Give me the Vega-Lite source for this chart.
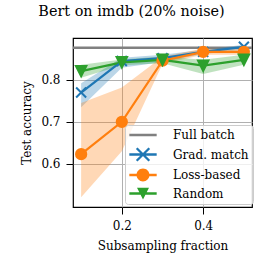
{
  "$schema": "https://vega.github.io/schema/vega-lite/v6.json",
  "autosize": {"type": "none"},
  "width": 179,
  "height": 169,
  "padding": {"left": 73, "top": 38, "right": 13, "bottom": 58},
  "background": "white",
  "config": {
    "view": {"stroke": "#000", "strokeWidth": 1.2},
    "axis": {
      "labelFont": "DejaVu Serif", "labelFontSize": 12, "labelColor": "#000",
      "titleFont": "DejaVu Serif", "titleFontSize": 12, "titleFontWeight": "normal", "titleColor": "#000",
      "domain": false, "tickColor": "#000", "tickSize": 7, "tickWidth": 1,
      "gridColor": "#b0b0b0", "gridWidth": 1, "labelPadding": 6
    }
  },
  "title": {
    "text": "Bert on imdb (20% noise)", "font": "DejaVu Serif", "fontSize": 14.4, "fontWeight": "normal",
    "color": "#000", "anchor": "middle", "dx": -31, "offset": 7.5, "baseline": "alphabetic"
  },
  "data": {"values": [
    {"series": "Full batch", "x": null, "y": 0.877, "lo": null, "hi": null},
    {"series": "Grad. match", "x": 0.1, "y": 0.770, "lo": 0.735, "hi": 0.792},
    {"series": "Grad. match", "x": 0.2, "y": 0.845, "lo": 0.829, "hi": 0.853},
    {"series": "Grad. match", "x": 0.3, "y": 0.852, "lo": 0.843, "hi": 0.860},
    {"series": "Grad. match", "x": 0.4, "y": 0.867, "lo": 0.862, "hi": 0.872},
    {"series": "Grad. match", "x": 0.5, "y": 0.879, "lo": 0.872, "hi": 0.884},
    {"series": "Loss-based", "x": 0.1, "y": 0.623, "lo": 0.520, "hi": 0.745},
    {"series": "Loss-based", "x": 0.2, "y": 0.700, "lo": 0.630, "hi": 0.782},
    {"series": "Loss-based", "x": 0.3, "y": 0.846, "lo": 0.838, "hi": 0.855},
    {"series": "Loss-based", "x": 0.4, "y": 0.867, "lo": 0.860, "hi": 0.875},
    {"series": "Loss-based", "x": 0.5, "y": 0.867, "lo": 0.860, "hi": 0.874},
    {"series": "Random", "x": 0.1, "y": 0.821, "lo": 0.805, "hi": 0.836},
    {"series": "Random", "x": 0.2, "y": 0.842, "lo": 0.835, "hi": 0.849},
    {"series": "Random", "x": 0.3, "y": 0.848, "lo": 0.840, "hi": 0.856},
    {"series": "Random", "x": 0.4, "y": 0.834, "lo": 0.814, "hi": 0.848},
    {"series": "Random", "x": 0.5, "y": 0.848, "lo": 0.836, "hi": 0.860}
  ]},
  "resolve": {"scale": {"shape": "independent", "size": "independent", "color": "independent"}},
  "layer": [
    {
      "transform": [{"filter": "datum.series === 'Full batch'"}],
      "mark": {"type": "rule", "color": "#808080", "strokeWidth": 2.5},
      "encoding": {
        "y": {"field": "y", "type": "quantitative", "scale": {"domain": [0.497, 0.9], "nice": false, "zero": false},
          "axis": {"values": [0.6, 0.7, 0.8], "format": ".1f", "title": "Test accuracy", "titleX": -42.5, "titleY": 84.5, "titleBaseline": "alphabetic", "titleAlign": "center", "titleAngle": -90}}
      }
    },
    {
      "layer": [
        {
          "transform": [{"filter": "datum.series !== 'Full batch'"}],
          "mark": {"type": "area", "opacity": 0.3},
          "encoding": {
            "x": {"field": "x", "type": "quantitative", "scale": {"domain": [0.08, 0.52], "nice": false, "zero": false},
              "axis": {"values": [0.2, 0.4], "format": ".1f", "title": "Subsampling fraction", "titleY": 42.5, "titleBaseline": "alphabetic"}},
            "y": {"field": "lo", "type": "quantitative"},
            "y2": {"field": "hi"},
            "color": {"field": "series", "type": "nominal", "legend": null,
              "scale": {"domain": ["Full batch", "Grad. match", "Loss-based", "Random"], "range": ["#808080", "#1f77b4", "#ff7f0e", "#2ca02c"]}}
          }
        },
        {
          "transform": [{"filter": "datum.series !== 'Full batch'"}],
          "mark": {"type": "line", "strokeWidth": 2.2},
          "encoding": {
            "x": {"field": "x", "type": "quantitative"},
            "y": {"field": "y", "type": "quantitative"},
            "color": {"field": "series", "type": "nominal", "legend": null}
          }
        }
      ]
    },
    {
      "transform": [{"filter": "datum.series !== 'Full batch'"}],
      "mark": {"type": "point", "filled": true, "opacity": 1, "strokeWidth": 2},
      "encoding": {
        "x": {"field": "x", "type": "quantitative"},
        "y": {"field": "y", "type": "quantitative"},
        "fill": {"field": "series", "type": "nominal", "legend": null,
          "scale": {"domain": ["Full batch", "Grad. match", "Loss-based", "Random"], "range": ["#808080", "#1f77b4", "#ff7f0e", "#2ca02c"]}},
        "stroke": {"field": "series", "type": "nominal", "legend": null,
          "scale": {"domain": ["Full batch", "Grad. match", "Loss-based", "Random"], "range": ["#808080", "#1f77b4", "#ff7f0e", "#2ca02c"]}},
        "shape": {"field": "series", "type": "nominal", "legend": null,
          "scale": {"domain": ["Grad. match", "Loss-based", "Random"], "range": ["M-1,-1L1,1M-1,1L1,-1", "circle", "M-1,-1L1,-1L0,1Z"]}},
        "size": {"field": "series", "type": "nominal", "legend": null,
          "scale": {"domain": ["Grad. match", "Loss-based", "Random"], "range": [100, 110, 120]}}
      }
    },
    {
      "mark": {"type": "point", "filled": true, "opacity": 0},
      "encoding": {
        "color": {"field": "series", "type": "nominal",
          "scale": {"domain": ["Full batch", "Grad. match", "Loss-based", "Random"], "range": ["#808080", "#1f77b4", "#ff7f0e", "#2ca02c"]},
          "legend": {"title": null, "orient": "none", "legendX": 52, "legendY": 87, "padding": 4, "rowPadding": 5.5, "symbolSize": 144, "symbolStrokeWidth": 0, "symbolOffset": 8, "labelFont": "DejaVu Serif", "labelFontSize": 12, "labelColor": "#000", "labelOffset": 24, "fillColor": "rgba(255,255,255,0.8)", "strokeColor": "#cccccc", "cornerRadius": 3, "labelLimit": 0, "symbolOpacity": 1}},
        "shape": {"field": "series", "type": "nominal",
          "scale": {"domain": ["Full batch", "Grad. match", "Loss-based", "Random"], "range": [
            "M-2.28,-0.21H2.28V0.21H-2.28Z",
            "M-2.28,-0.21H2.28V0.21H-2.28ZM-0.916,-1.184L1.184,0.916L0.916,1.184L-1.184,-0.916ZM-0.916,1.184L-1.184,0.916L0.916,-1.184L1.184,-0.916Z",
            "M-2.28,-0.21H2.28V0.21H-2.28ZM1.08,0A1.08,1.08,0,1,1,-1.08,0A1.08,1.08,0,1,1,1.08,0Z",
            "M-2.28,-0.21H2.28V0.21H-2.28ZM-1,-0.95L1,-0.95L0,1Z"]},
          "legend": {"title": null, "orient": "none", "legendX": 52, "legendY": 87, "padding": 4, "rowPadding": 5.5, "symbolSize": 144, "symbolStrokeWidth": 0, "symbolOffset": 8, "labelFont": "DejaVu Serif", "labelFontSize": 12, "labelColor": "#000", "labelOffset": 24, "fillColor": "rgba(255,255,255,0.8)", "strokeColor": "#cccccc", "cornerRadius": 3, "labelLimit": 0, "symbolOpacity": 1}}
      }
    }
  ]
}
